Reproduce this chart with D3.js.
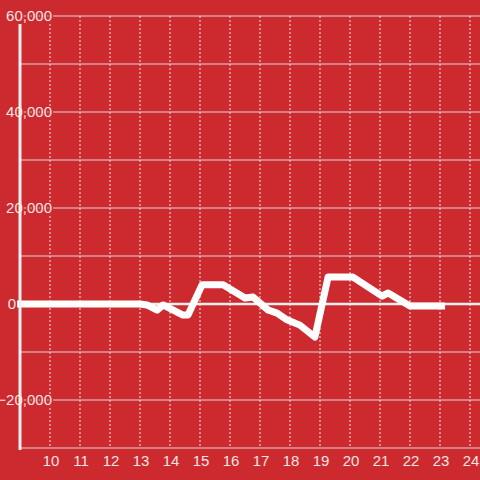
<!DOCTYPE html>
<html>
<head>
<meta charset="utf-8">
<script src="https://cdn.jsdelivr.net/npm/d3@7"></script>
<style>
  body { margin: 0; background: #cd2a2f; }
  text { font-family: "Liberation Sans", Arial, sans-serif; }
</style>
</head>
<body>
<script>
// hour of day and value
let hours = [8.9, 13, 13.23, 13.57, 13.77, 14.43, 14.6, 15.07, 15.77, 16.5, 16.77, 17.27, 17.57, 17.9, 18.33, 18.83, 19.27, 20.1, 21.07, 21.27, 22, 23.17]
let values = [0, 0, -200, -1250, -200, -2300, -2300, 4000, 4000, 1250, 1450, -1250, -1900, -3300, -4400, -6900, 5600, 5600, 1650, 2300, -400, -400]

let xTicks = [10, 11, 12, 13, 14, 15, 16, 17, 18, 19, 20, 21, 22, 23, 24]
let yTicks = [-20000, 0, 20000, 40000, 60000]
let yGrid = [-30000, -20000, -10000, 0, 10000, 20000, 30000, 40000, 50000, 60000]

let width = 480
let height = 480
let bg = '#cd2a2f'

var svg = d3.select('body')
    .append('svg')
    .attr('width', width)
    .attr('height', height)
    .style('background', bg)

var x = d3.scaleLinear().domain([9, 24.333]).range([20, 480])
var y = d3.scaleLinear().domain([-30000, 60000]).range([448, 16])

// horizontal grid
svg.append('g')
    .selectAll('line')
    .data(yGrid)
    .enter()
    .append('line')
    .attr('x1', 20)
    .attr('x2', width)
    .attr('y1', d => y(d))
    .attr('y2', d => y(d))
    .attr('stroke', '#d9d9d9')
    .attr('stroke-width', 1)

// vertical dotted grid
svg.append('g')
    .selectAll('line')
    .data(xTicks)
    .enter()
    .append('line')
    .attr('x1', d => x(d))
    .attr('x2', d => x(d))
    .attr('y1', y(60000))
    .attr('y2', y(-30000))
    .attr('stroke', '#e6e6e6')
    .attr('stroke-width', 1)
    .attr('stroke-dasharray', '2,2')

// zero line
svg.append('line')
    .attr('x1', 17)
    .attr('x2', width)
    .attr('y1', y(0))
    .attr('y2', y(0))
    .attr('stroke', '#f4eeee')
    .attr('stroke-width', 2.5)

// data line
var line = d3.line()
    .x((d, i) => x(hours[i]))
    .y(d => y(d))

svg.append('path')
    .datum(values)
    .attr('d', line)
    .attr('fill', 'none')
    .attr('stroke', '#ffffff')
    .attr('stroke-width', 7)
    .attr('stroke-linejoin', 'round')

// y labels with background halo
var fmt = d3.format(',')
svg.append('g')
    .selectAll('text')
    .data(yTicks)
    .enter()
    .append('text')
    .text(d => fmt(d))
    .attr('x', d => d === 0 ? 16 : 52)
    .attr('y', d => y(d) + 5)
    .attr('text-anchor', 'end')
    .attr('font-size', 15)
    .attr('fill', '#f4e4e4')
    .attr('stroke', bg)
    .attr('stroke-width', 3)
    .attr('paint-order', 'stroke')

// y axis line, on top of the labels
svg.append('line')
    .attr('x1', 20)
    .attr('x2', 20)
    .attr('y1', 24)
    .attr('y2', 450)
    .attr('stroke', '#f4eeee')
    .attr('stroke-width', 3)

// x labels
svg.append('g')
    .selectAll('text')
    .data(xTicks)
    .enter()
    .append('text')
    .text(d => d)
    .attr('x', d => x(d) + 1)
    .attr('y', 466)
    .attr('text-anchor', 'middle')
    .attr('font-size', 15)
    .attr('fill', '#f4e4e4')
</script>
</body>
</html>
